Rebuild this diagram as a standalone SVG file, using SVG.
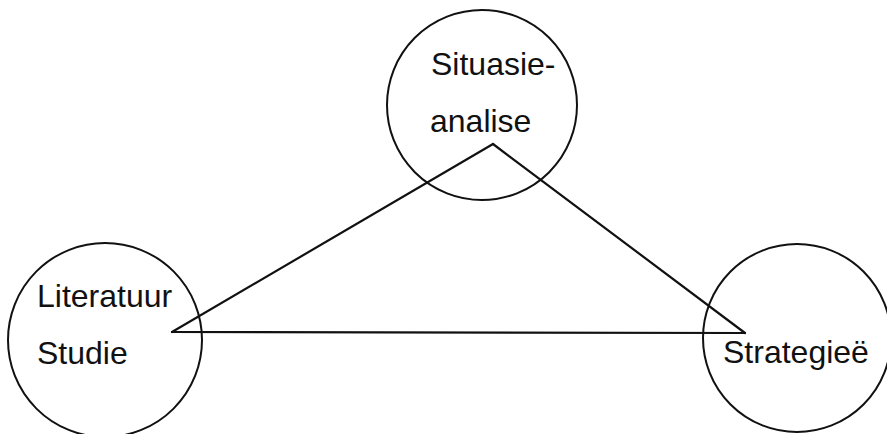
<svg xmlns="http://www.w3.org/2000/svg" width="887" height="434" viewBox="0 0 887 434">
<style>
.node circle{fill:none;stroke:#111;stroke-width:2}
.lbl{font-family:"Liberation Sans",Arial,sans-serif;font-size:32px;fill:#111}
.edge{stroke:#111;stroke-width:2.2;fill:none;stroke-linecap:round}
</style>
<rect width="887" height="434" fill="#fff"/>
<g id="connectors">
<line class="edge" x1="493" y1="144" x2="172" y2="332"/>
<line class="edge" x1="493" y1="144" x2="745" y2="333"/>
<line class="edge" x1="172" y1="332" x2="745" y2="333"/>
</g>
<g id="situasie" class="node">
<circle cx="482" cy="105" r="95"/>
<text class="lbl" x="431" y="75">Situasie-</text>
<text class="lbl" x="430" y="132">analise</text>
</g>
<g id="literatuur" class="node">
<circle cx="105" cy="340" r="97"/>
<text class="lbl" x="37" y="307">Literatuur</text>
<text class="lbl" x="37" y="364">Studie</text>
</g>
<g id="strategiee" class="node">
<circle cx="797" cy="338" r="94"/>
<text class="lbl" x="723" y="363">Strategieë</text>
</g>
</svg>
